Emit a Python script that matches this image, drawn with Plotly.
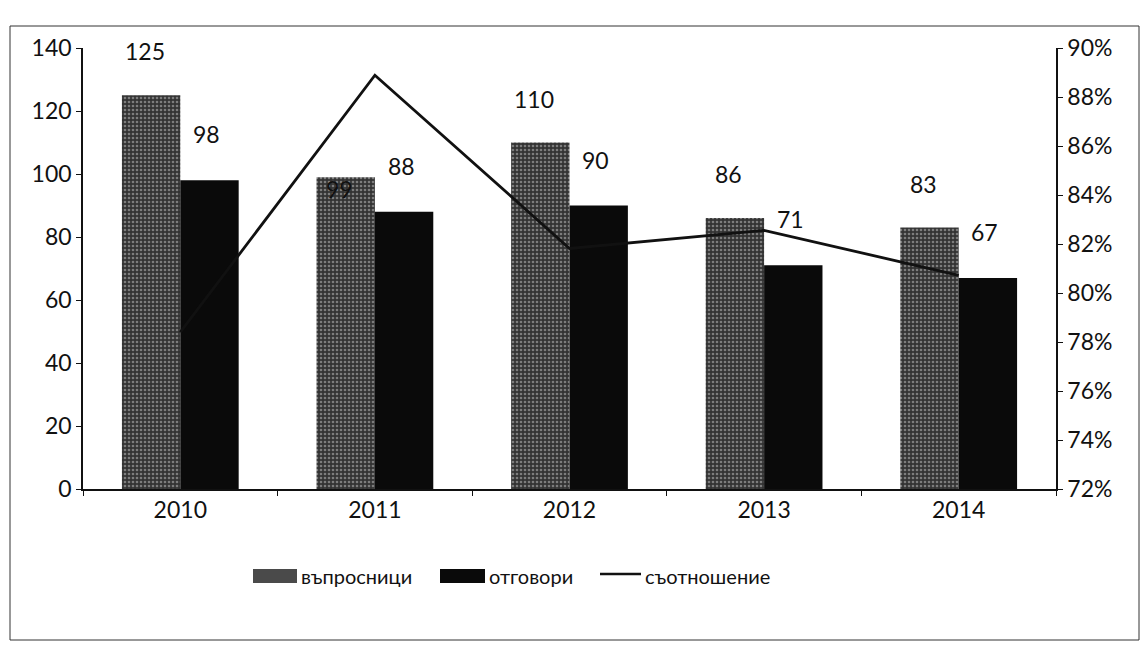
import plotly.graph_objects as go

years = ["2010", "2011", "2012", "2013", "2014"]
questionnaires = [125, 99, 110, 86, 83]   # въпросници
answers = [98, 88, 90, 71, 67]            # отговори
ratio = [a / q for a, q in zip(answers, questionnaires)]  # съотношение

FONT = "Lato"
FS = 23
W, H = 1144, 646
ML, MR, MT, MB = 83, 88, 48, 157
PW = W - ML - MR
PH = H - MT - MB


def px(x):
    return (x - ML) / PW


def py(y):
    return (H - MB - y) / PH


GRAIN = dict(shape=".", fgcolor="#c8c8c8", bgcolor="#333333", size=4, solidity=0.35)

fig = go.Figure()

fig.add_trace(go.Bar(
    name="въпросници", x=years, y=questionnaires,
    marker=dict(color="#3a3a3a", line=dict(width=0), pattern=GRAIN),
))
fig.add_trace(go.Bar(
    name="отговори", x=years, y=answers,
    marker=dict(color="#0a0a0a", line=dict(width=0)),
))
fig.add_trace(go.Scatter(
    name="съотношение", x=years, y=ratio, yaxis="y2",
    mode="lines", line=dict(color="#111111", width=2.8),
))

# value labels above each bar (category axis: annotations use the category index)
bar_px = PW / len(years) * 0.3
for i, (q, a) in enumerate(zip(questionnaires, answers)):
    fig.add_annotation(x=i, y=q, xref="x", yref="y", text=str(q),
                       showarrow=False, xshift=-bar_px / 2 - 6,
                       yshift=(-12 if q == 99 else 44),
                       font=dict(family=FONT, size=FS, color="#111"))
    fig.add_annotation(x=i, y=a, xref="x", yref="y", text=str(a),
                       showarrow=False, xshift=bar_px / 2 - 3, yshift=46,
                       font=dict(family=FONT, size=FS, color="#111"))

# chart frame
fig.add_shape(type="rect", xref="paper", yref="paper",
              x0=px(10), x1=px(1139), y0=py(640), y1=py(26),
              line=dict(color="#333", width=1))

# legend row
LY = 576
fig.add_shape(type="rect", xref="paper", yref="paper",
              x0=px(253), x1=px(297), y0=py(LY + 7), y1=py(LY - 7),
              fillcolor="#4a4a4a", line=dict(width=0))
fig.add_shape(type="rect", xref="paper", yref="paper",
              x0=px(440), x1=px(485), y0=py(LY + 7), y1=py(LY - 7),
              fillcolor="#0a0a0a", line=dict(width=0))
fig.add_shape(type="line", xref="paper", yref="paper",
              x0=px(600), x1=px(641), y0=py(LY - 2), y1=py(LY - 2),
              line=dict(color="#111", width=2.5))
for x0, label in [(299, "въпросници"), (487, "отговори"), (643, "съотношение")]:
    fig.add_annotation(x=px(x0), y=py(LY), xref="paper", yref="paper",
                       text=label, showarrow=False, xanchor="left",
                       yanchor="middle",
                       font=dict(family=FONT, size=20, color="#111"))

fig.update_layout(
    width=W, height=H,
    margin=dict(l=ML, r=MR, t=MT, b=MB),
    paper_bgcolor="white", plot_bgcolor="white",
    barmode="group", bargap=0.4, bargroupgap=0,
    font=dict(family=FONT, size=FS, color="#111"),
    showlegend=False,
    xaxis=dict(type="category", showline=True, linecolor="#111",
               linewidth=1.5, ticks="outside", tickson="boundaries",
               ticklen=5, tickcolor="#111", showgrid=False,
               range=[-0.5, 4.5],
               tickfont=dict(family=FONT, size=FS)),
    yaxis=dict(range=[0, 140], dtick=20, showline=True, linecolor="#111",
               linewidth=1.5, ticks="outside", ticklen=5, tickcolor="#111",
               showgrid=False, zeroline=False,
               tickfont=dict(family=FONT, size=FS)),
    yaxis2=dict(range=[0.72, 0.90], dtick=0.02, tickformat=".0%",
                overlaying="y", side="right", showline=True,
                linecolor="#111", linewidth=1.5, ticks="outside",
                ticklen=5, tickcolor="#111", showgrid=False, zeroline=False,
                tickfont=dict(family=FONT, size=FS)),
)

fig.write_html("out.html")
